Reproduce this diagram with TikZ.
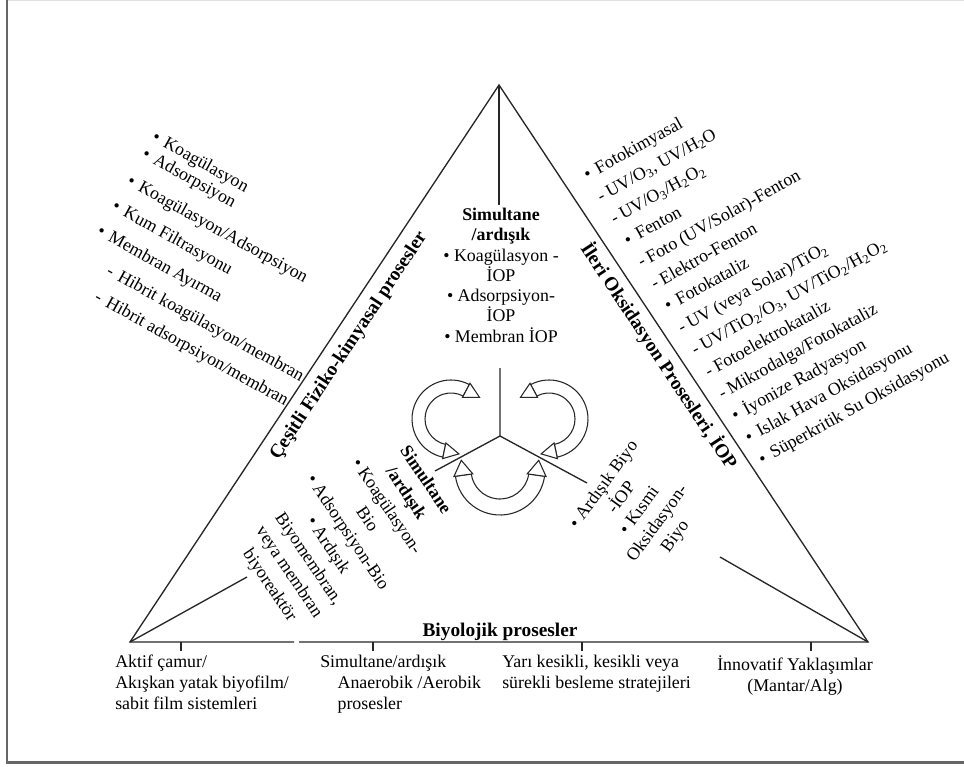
\documentclass[tikz,border=0pt]{standalone}
\usepackage{fontspec}
\setmainfont{Liberation Serif}
\usetikzlibrary{calc}

\begin{document}
\begin{tikzpicture}[x=0.75pt, y=0.75pt,
  every node/.style={font=\fontsize{13.4}{15.75}\selectfont, inner sep=0pt},
  side/.style={font=\fontsize{14.5}{17}\selectfont\bfseries},
  item/.style={anchor=west, text height=9pt, text depth=3pt},
  band/.style={draw=black!85, fill=white, line width=0.8pt},
  edge/.style={draw=black!85, line width=1pt}]
\useasboundingbox (0,0) rectangle (964,-767);
% frame
\draw[gray!25, line width=1pt] (7,-0.5) -- (964,-0.5);
\draw[gray!80!black, line width=2pt] (7,0) -- (7,-762.5) -- (964,-762.5);

% triangle
\coordinate (top) at (499,-85);
\coordinate (bl) at (130,-642);
\coordinate (br) at (868,-642);
\coordinate (gapl) at (294,-642);
\coordinate (gapr) at (299,-642);
\draw[edge] (gapl) -- (bl) -- (top) -- (br) -- (gapr);
\coordinate (topend) at (499,-205);
\coordinate (blend) at (247,-577);
\coordinate (brend) at (720,-557);
\draw[edge] (top) -- (topend);
\draw[edge] (bl) -- (blend);
\draw[edge] (br) -- (brend);
\foreach \x in {181,373,582,811}
  \draw[edge] (\x,-642) -- (\x,-651);

% centre
\coordinate (mid) at (500,-436);
\coordinate (ytop) at (500,-368);
\coordinate (yleft) at (435,-471);
\coordinate (yright) at (587,-483);
\draw[edge] (ytop) -- (mid) -- (yleft) (mid) -- (yright);

% hollow loops
\foreach \cx/\cy/\ri/\ro/\sa/\ea in {451/-419/26/39/62/258, 549/-419/26/39/118/-78, 500/-470/29/45/188/352}{
  \pgfmathsetmacro{\s}{sign(\ea-\sa)}
  \pgfmathsetmacro{\rmid}{(\ri+\ro)/2}
  \pgfmathsetmacro{\rin}{\ri-1.5}
  \pgfmathsetmacro{\rout}{\ro+1.5}
  \pgfmathsetmacro{\tsx}{\rmid*cos(\sa)+15*cos(\sa-\s*90)}
  \pgfmathsetmacro{\tsy}{\rmid*sin(\sa)+15*sin(\sa-\s*90)}
  \pgfmathsetmacro{\tex}{\rmid*cos(\ea)+15*cos(\ea+\s*90)}
  \pgfmathsetmacro{\tey}{\rmid*sin(\ea)+15*sin(\ea+\s*90)}
  \begin{scope}[shift={(\cx,\cy)}]
    \draw[band] (\sa:\ro) arc[start angle=\sa, end angle=\ea, radius=\ro]
      -- (\ea:\ri) arc[start angle=\ea, end angle=\sa, radius=\ri] -- cycle;
    \draw[band] (\sa:\rin) -- (\sa:\rout) -- (\tsx,\tsy) -- cycle;
    \draw[band] (\ea:\rin) -- (\ea:\rout) -- (\tex,\tey) -- cycle;
  \end{scope}
}

% side titles
\node[side, rotate=56.47] (phys) at (349,-346) {Çeşitli Fiziko-kimyasal prosesler};
\node[side, rotate=-56.47] (aop) at (659,-356) {İleri Oksidasyon Prosesleri, İOP};
\node[side, anchor=base] (bio) at (500,-636) {Biyolojik prosesler};

% inner blocks
\node[align=center, anchor=north, font=\fontsize{13.4}{15.2}\selectfont] (aopmix) at (501,-208)
  {\textbf{Simultane}\\\textbf{/ardışık}\\\textbullet\ Koagülasyon -\\İOP\\\textbullet\ Adsorpsiyon-\\İOP\\\textbullet\ Membran İOP};
\node[align=center, rotate=-56, font=\fontsize{13.4}{17.6}\selectfont] (biophys) at (347,-533)
  {\textbf{Simultane}\\\textbf{/ardışık}\\\textbullet\ Koagülasyon-\\Bio\\\textbullet\ Adsorpsiyon-Bio\\\textbullet\ Ardışık\\Biyomembran,\\veya membran\\biyoreaktör};
\node[align=center, rotate=54, font=\fontsize{13.4}{16.5}\selectfont] (bioaop) at (640,-511)
  {\textbullet\ Ardışık Biyo\\-İOP\\\textbullet\ Kısmi\\Oksidasyon-\\Biyo};

% bottom labels
\node[align=left, anchor=north west] (actsl) at (115,-655) {Aktif çamur/\\Akışkan yatak biyofilm/\\sabit film sistemleri};
\node[align=left, anchor=north west] (anaer) at (320,-655) {Simultane/ardışık\\\hspace*{13pt}Anaerobik /Aerobik\\\hspace*{13pt}prosesler};
\node[align=left, anchor=north west] (feed) at (502,-655) {Yarı kesikli, kesikli veya\\sürekli besleme stratejileri};
\node[align=center, anchor=north] (innov) at (795,-655) {İnnovatif Yaklaşımlar\\(Mantar/Alg)};

% physico-chemical list
\begin{scope}[shift={(155,-138)}, rotate=-29]
  \node[item, transform shape] (p1) at (-2.5,0) {\textbullet\hspace{5pt}Koagülasyon};
  \node[item, transform shape] (p2) at (-3,-19.7) {\textbullet\hspace{5pt}Adsorpsiyon};
  \node[item, transform shape] (p3) at (-3.1,-50.6) {\textbullet\hspace{5pt}Koagülasyon/Adsorpsiyon};
  \node[item, transform shape] (p4) at (-4,-79.8) {\textbullet\hspace{5pt}Kum Filtrasyonu};
  \node[item, transform shape] (p5) at (-5,-109) {\textbullet\hspace{5pt}Membran Ayırma};
  \node[item, transform shape] (p6) at (22.6,-139) {-\hspace{5pt}Hibrit koagülasyon/membran};
  \node[item, transform shape] (p7) at (24.7,-167.6) {-\hspace{5pt}Hibrit adsorpsiyon/membran};
\end{scope}

% AOP list
\foreach \txt [count=\k from 0] in {
  \textbullet\hspace{5pt}Fotokimyasal,
  {-\hspace{3pt}UV/O\textsubscript{3}, UV/H\textsubscript{2}O},
  -\hspace{3pt}UV/O\textsubscript{3}/H\textsubscript{2}O\textsubscript{2},
  \textbullet\hspace{5pt}Fenton,
  -\hspace{3pt}Foto (UV/Solar)-Fenton,
  -\hspace{3pt}Elektro-Fenton,
  \textbullet\hspace{5pt}Fotokataliz,
  -\hspace{3pt}UV (veya Solar)/TiO\textsubscript{2},
  {-\hspace{3pt}UV/TiO\textsubscript{2}/O\textsubscript{3}, UV/TiO\textsubscript{2}/H\textsubscript{2}O\textsubscript{2}},
  -\hspace{3pt}Fotoelektrokataliz,
  -\hspace{3pt}Mikrodalga/Fotokataliz,
  \textbullet\hspace{5pt}İyonize Radyasyon,
  \textbullet\hspace{5pt}Islak Hava Oksidasyonu,
  \textbullet\hspace{5pt}Süperkritik Su Oksidasyonu}
  \node[item, rotate=29] (a\k) at ({585.5+13.46*\k},{-177-21.9*\k}) {\txt};
\end{tikzpicture}
\end{document}
